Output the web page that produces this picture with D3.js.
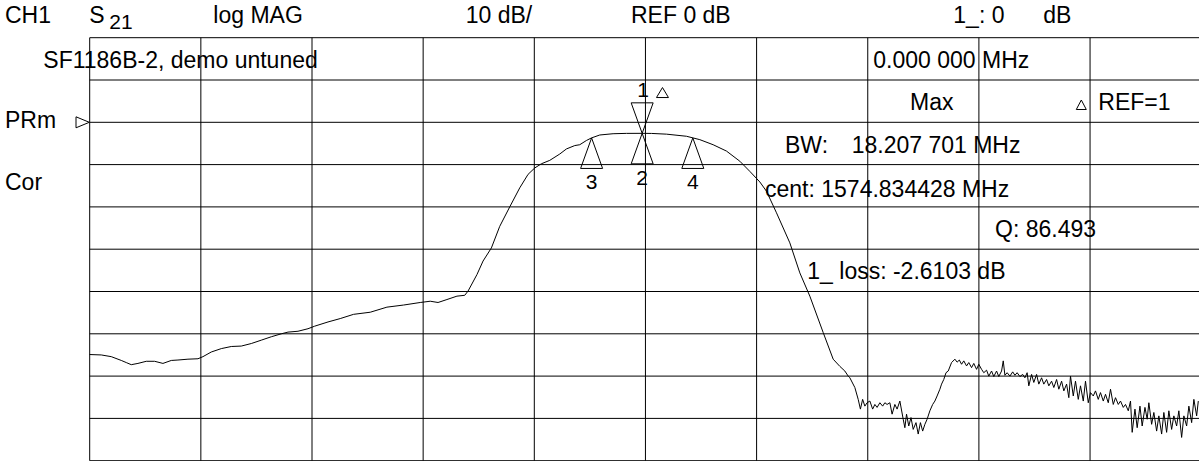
<!DOCTYPE html>
<html>
<head>
<meta charset="utf-8">
<script src="https://cdn.jsdelivr.net/npm/d3@7/dist/d3.min.js"></script>
<style>
  body { margin: 0; background: #fff; }
  svg { display: block; font-family: "Liberation Sans", Arial, sans-serif; }
</style>
</head>
<body>
<div class="analyzer"></div>
<script>
// sweep settings (center = GPS L1, 20 MHz/div, 10 dB/div)
var freqStart = 1475.42,
    freqStop = 1675.42,
    dbBottom = -80,
    dbTop = 20,
    refLevel = 0;

// S21 trace: [MHz, dB]
var tracePoints = [
  [1475.4,-54.9],[1477.5,-55.0],[1479.3,-55.4],[1481.1,-56.3],[1482.0,-56.8],[1482.9,-57.3],
  [1484.1,-57.0],[1485.6,-56.5],[1487.1,-56.5],[1488.6,-57.0],[1490.1,-56.3],[1491.3,-56.2],
  [1493.1,-56.0],[1494.9,-55.9],[1495.8,-55.4],[1497.3,-54.3],[1499.1,-53.5],[1500.9,-53.0],
  [1502.7,-52.9],[1504.5,-52.3],[1506.3,-51.5],[1508.1,-50.7],[1509.9,-50.0],[1511.1,-49.6],
  [1512.9,-49.4],[1514.7,-48.8],[1515.9,-48.2],[1518.3,-47.2],[1520.5,-46.4],[1522.9,-45.4],
  [1525.9,-44.9],[1528.9,-43.7],[1531.9,-43.2],[1534.9,-42.6],[1536.7,-42.3],[1538.1,-42.6],
  [1539.7,-41.9],[1541.5,-41.1],[1542.9,-40.9],[1543.5,-39.9],[1545.1,-36.0],[1546.2,-32.8],
  [1547.7,-29.7],[1549.2,-24.6],[1551.0,-20.0],[1552.8,-15.5],[1554.3,-12.3],[1555.5,-10.8],
  [1556.7,-9.8],[1558.2,-9.0],[1560.0,-7.5],[1561.2,-6.3],[1562.7,-5.5],[1563.6,-5.3],
  [1564.8,-4.3],[1565.7,-3.7],[1567.2,-3.0],[1569.6,-2.7],[1572.0,-2.62],[1574.8,-2.61],
  [1576.5,-2.63],[1579.2,-2.8],[1582.8,-3.3],[1585.2,-4.1],[1587.6,-5.3],[1590.0,-6.8],
  [1592.4,-9.2],[1594.2,-11.6],[1596.0,-14.1],[1597.2,-16.3],[1599.0,-21.4],[1601.4,-28.5],
  [1603.2,-35.6],[1605.0,-41.1],[1607.4,-49.7],[1609.2,-56.0],[1610.4,-57.7],[1611.3,-58.8],
  [1611.9,-60.0],[1612.2,-60.4],[1613.1,-62.7],[1613.7,-65.5],[1614.1,-67.8],[1614.5,-65.5],
  [1614.9,-67.1],[1615.3,-66.3],[1615.8,-65.9],[1616.3,-67.8],[1616.7,-66.7],[1617.1,-67.4],
  [1617.6,-66.3],[1618.1,-67.1],[1618.5,-66.3],[1618.9,-66.7],[1619.4,-66.3],[1619.8,-69.0],
  [1620.3,-66.7],[1620.7,-67.8],[1621.2,-65.9],[1621.8,-70.2],[1622.1,-72.2],[1622.4,-69.0],
  [1622.8,-71.8],[1623.2,-69.8],[1623.6,-72.6],[1624.1,-71.0],[1624.5,-73.7],[1624.9,-71.0],
  [1625.3,-73.0],[1625.7,-71.4],[1626.1,-70.2],[1626.6,-68.2],[1627.1,-66.7],[1627.5,-65.9],
  [1627.9,-64.7],[1628.4,-63.1],[1628.7,-61.9],[1629.1,-60.8],[1629.5,-59.2],[1629.9,-58.8],
  [1630.5,-56.8],[1631.1,-56.0],[1631.5,-56.7],[1631.9,-56.2],[1632.3,-57.2],[1632.7,-56.4],
  [1633.2,-57.6],[1633.6,-56.8],[1634.1,-58.0],[1634.5,-57.0],[1635.0,-58.4],[1635.4,-57.2],
  [1635.9,-58.4],[1636.3,-59.2],[1636.8,-58.6],[1637.2,-60.0],[1637.7,-58.8],[1638.1,-60.1],
  [1638.6,-58.8],[1639.0,-60.1],[1639.5,-58.8],[1639.8,-56.4],[1640.1,-59.8],[1640.5,-59.2],
  [1641.0,-60.0],[1641.5,-59.0],[1641.9,-59.8],[1642.3,-59.2],[1642.8,-60.1],[1643.3,-59.6],
  [1643.7,-60.4],[1644.1,-59.2],[1644.4,-62.3],[1644.9,-59.6],[1645.3,-61.5],[1645.8,-59.6],
  [1646.2,-61.9],[1646.7,-60.4],[1647.1,-61.9],[1647.6,-60.8],[1648.0,-62.3],[1648.5,-61.2],
  [1648.9,-62.7],[1649.4,-60.8],[1649.8,-63.1],[1650.3,-61.2],[1650.7,-63.5],[1651.2,-61.9],
  [1651.6,-65.1],[1651.9,-60.0],[1652.4,-64.7],[1652.8,-61.2],[1653.3,-65.5],[1653.7,-62.3],
  [1654.2,-65.9],[1654.6,-61.2],[1655.1,-66.3],[1655.5,-63.9],[1656.0,-64.7],[1656.4,-63.5],
  [1656.9,-65.5],[1657.3,-63.9],[1657.8,-65.9],[1658.2,-64.3],[1658.7,-66.3],[1659.1,-63.1],
  [1659.6,-66.7],[1660.0,-65.1],[1660.5,-66.7],[1660.9,-65.9],[1661.4,-67.4],[1661.8,-66.7],
  [1662.3,-68.2],[1662.7,-65.9],[1663.0,-73.3],[1663.5,-67.8],[1663.9,-72.2],[1664.4,-67.1],
  [1664.8,-71.8],[1665.3,-67.4],[1665.7,-70.2],[1666.0,-66.3],[1666.5,-71.4],[1666.9,-68.6],
  [1667.4,-73.0],[1667.8,-69.4],[1668.3,-73.7],[1668.7,-68.6],[1669.2,-73.3],[1669.6,-68.2],
  [1670.1,-72.6],[1670.5,-69.4],[1671.0,-71.8],[1671.4,-68.2],[1671.9,-74.5],[1672.3,-69.4],
  [1672.8,-71.8],[1673.2,-67.1],[1673.7,-71.0],[1674.1,-65.5],[1674.6,-69.4],[1674.9,-65.9]
];

// markers: 1 = max, 2 = center, 3/4 = -3 dB band edges
var markerIds = ["1", "2", "3", "4"];
var markerFreq = [1574.83, 1574.83, 1565.73, 1583.94];
var markerDb = [-2.61, -2.61, -3.7, -3.7];

var headerTexts = ["CH1", "S", "log MAG", "10 dB/", "REF 0 dB", "1_: 0", "dB"];
var paramSub = "21";
var statusTexts = ["PRm", "Cor"];
var titleText = "SF1186B-2, demo untuned";
var readoutTexts = ["0.000 000 MHz", "Max", "REF=1", "BW:", "18.207 701 MHz",
                    "cent: 1574.834428 MHz", "Q: 86.493", "1_ loss: -2.6103 dB"];

var W = 1199, H = 461, FS = 23;

var svg = d3.select(".analyzer").append("svg")
    .attr("width", W)
    .attr("height", H);

var x = d3.scaleLinear().domain([freqStart, freqStop]).range([89.7, 1201.2]);
var y = d3.scaleLinear().domain([dbBottom, dbTop]).range([460.7, 37.7]);

// graticule 10 x 10
var grid = svg.append("g").attr("stroke", "#000").attr("stroke-width", 1);
grid.selectAll(".vline")
  .data(d3.range(0, 11))
  .enter().append("line")
    .attr("class", "vline")
    .attr("x1", function (i) { return x(freqStart + i * 20); })
    .attr("x2", function (i) { return x(freqStart + i * 20); })
    .attr("y1", y(dbTop))
    .attr("y2", y(dbBottom));
grid.selectAll(".hline")
  .data(d3.range(dbBottom, dbTop + 1, 10))
  .enter().append("line")
    .attr("class", "hline")
    .attr("x1", x(freqStart))
    .attr("x2", x(freqStop))
    .attr("y1", function (d) { return y(d); })
    .attr("y2", function (d) { return y(d); });

// trace
var line = d3.line()
    .x(function (d) { return x(d[0]); })
    .y(function (d) { return y(d[1]); });

svg.append("path")
    .datum(tracePoints)
    .attr("d", line)
    .attr("fill", "none")
    .attr("stroke", "#000")
    .attr("stroke-width", 1);

// text helper
function label(txt, tx, ty, size, anchor) {
  return svg.append("text")
    .attr("x", tx)
    .attr("y", ty)
    .attr("font-size", size || FS)
    .attr("text-anchor", anchor || "start")
    .attr("fill", "#000")
    .text(txt);
}

function tri(cx, tipY, w, h, down) {
  // outline triangle with its tip at (cx, tipY)
  var baseY = down ? tipY - h : tipY + h;
  return svg.append("path")
    .attr("d", "M" + cx + "," + tipY + "L" + (cx - w / 2) + "," + baseY +
               "L" + (cx + w / 2) + "," + baseY + "Z")
    .attr("fill", "none")
    .attr("stroke", "#000")
    .attr("stroke-width", 1);
}

// header line
var headerX = [5, 89.3, 213.3, 465.7, 631, 953.3, 1043.3];
headerTexts.forEach(function (t, i) { label(t, headerX[i], 22.5); });
label(paramSub, 109.3, 29.3, 21);

// left status column
label(statusTexts[0], 5, 128.3);
label(statusTexts[1], 5, 190);
svg.append("path")
    .attr("d", "M" + (x(freqStart) - 0.4) + "," + y(refLevel) + "L76," + (y(refLevel) - 5.5) +
               "L76," + (y(refLevel) + 5.5) + "Z")
    .attr("fill", "none")
    .attr("stroke", "#000")
    .attr("stroke-width", 1);

// title + readouts
label(titleText, 43.3, 68.3);
var readoutPos = [[873.3, 68.3], [910, 110], [1098.3, 110], [785, 153.3], [851.7, 153.3],
                  [765, 196.7], [995, 236.7], [807.3, 279.3]];
readoutTexts.forEach(function (t, i) { label(t, readoutPos[i][0], readoutPos[i][1]); });
tri(1081.3, 100, 10, 9.5, false);

// markers
markerIds.forEach(function (id, i) {
  var mx = x(markerFreq[i]), my = y(markerDb[i]);
  if (id === "1") {
    tri(mx, my, 22, 30.5, true);
    label(id, mx + 1, my - 36.6, 21, "middle");
    tri(mx + 20.3, my - 45.8, 12, 10, false);
  } else {
    tri(mx, my, 22, 30.5, false);
    label(id, mx, my + 51.5, 21, "middle");
  }
});
</script>
</body>
</html>
